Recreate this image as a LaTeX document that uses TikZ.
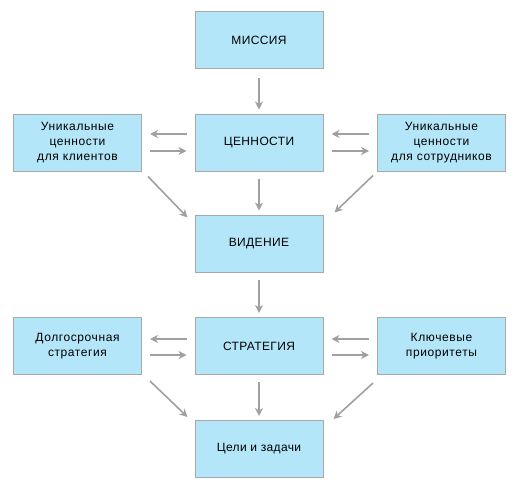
\documentclass[tikz,border=0pt]{standalone}
\usepackage{fontspec}
\setmainfont{Liberation Sans}
\usetikzlibrary{arrows.meta}
\definecolor{boxfill}{HTML}{B3E6F8}
\definecolor{boxline}{HTML}{A8A8A8}
\definecolor{arrcol}{HTML}{A0A0A0}
\begin{document}
\begin{tikzpicture}[x=1pt,y=-1pt,
  bigbox/.style={draw=boxline,fill=boxfill,line width=1pt,minimum width=128pt,minimum height=57pt,inner sep=0pt,font=\fontsize{12}{14}\selectfont\addfontfeature{LetterSpace=3},align=center},
  smallbox/.style={bigbox,font=\fontsize{12}{15}\selectfont\addfontfeature{LetterSpace=5}},
  arr/.style={draw=arrcol,line width=1.6pt,-{Stealth[length=8pt,width=8pt,inset=2.5pt]}}]
\useasboundingbox (0,0) rectangle (521,492);
\node[bigbox] (mission) at (259,40.5) {МИССИЯ};
\node[bigbox] (values) at (259,142.5) {ЦЕННОСТИ};
\node[smallbox] (lv) at (77.5,142.5) {Уникальные\\ценности\\для клиентов};
\node[smallbox] (rv) at (441.5,142.5) {Уникальные\\ценности\\для сотрудников};
\node[bigbox] (vision) at (259,243.5) {ВИДЕНИЕ};
\node[bigbox] (strategy) at (259,346) {СТРАТЕГИЯ};
\node[smallbox] (ls) at (77.5,346) {Долгосрочная\\стратегия};
\node[smallbox] (rs) at (441.5,346) {Ключевые\\приоритеты};
\node[bigbox] (goals) at (259,449) {Цели и задачи};
% vertical
\draw[arr,shorten <=9pt,shorten >=4pt] (mission.south) -- (values.north);
\draw[arr,shorten <=7pt,shorten >=4pt] (values.south) -- (vision.north);
\draw[arr,shorten <=7pt,shorten >=4pt] (vision.south) -- (strategy.north);
\draw[arr,shorten <=7pt,shorten >=4pt] (strategy.south) -- (goals.north);
% horizontal upper
\draw[arr,shorten <=8pt,shorten >=8pt] ([yshift=8.5pt]values.west) -- ([yshift=8.5pt]lv.east);
\draw[arr,shorten <=8pt,shorten >=8pt] ([yshift=-8.5pt]lv.east) -- ([yshift=-8.5pt]values.west);
\draw[arr,shorten <=8pt,shorten >=8pt] ([yshift=8.5pt]rv.west) -- ([yshift=8.5pt]values.east);
\draw[arr,shorten <=8pt,shorten >=8pt] ([yshift=-8.5pt]values.east) -- ([yshift=-8.5pt]rv.west);
% horizontal lower
\draw[arr,shorten <=8pt,shorten >=8pt] ([yshift=7pt]strategy.west) -- ([yshift=7pt]ls.east);
\draw[arr,shorten <=8pt,shorten >=8pt] ([yshift=-9pt]ls.east) -- ([yshift=-9pt]strategy.west);
\draw[arr,shorten <=8pt,shorten >=8pt] ([yshift=7pt]rs.west) -- ([yshift=7pt]strategy.east);
\draw[arr,shorten <=8pt,shorten >=8pt] ([yshift=-9pt]strategy.east) -- ([yshift=-9pt]rs.west);
% diagonals
\draw[arr] ([shift={(6,5)}]lv.south east) -- ([shift={(-7,3)}]vision.north west);
\draw[arr] ([shift={(-4,4)}]rv.south west) -- ([shift={(11,-2)}]vision.north east);
\draw[arr] ([shift={(8,6)}]ls.south east) -- ([shift={(-7,-3)}]goals.north west);
\draw[arr] ([shift={(-4,8)}]rs.south west) -- ([shift={(10,-1)}]goals.north east);
\end{tikzpicture}
\end{document}
